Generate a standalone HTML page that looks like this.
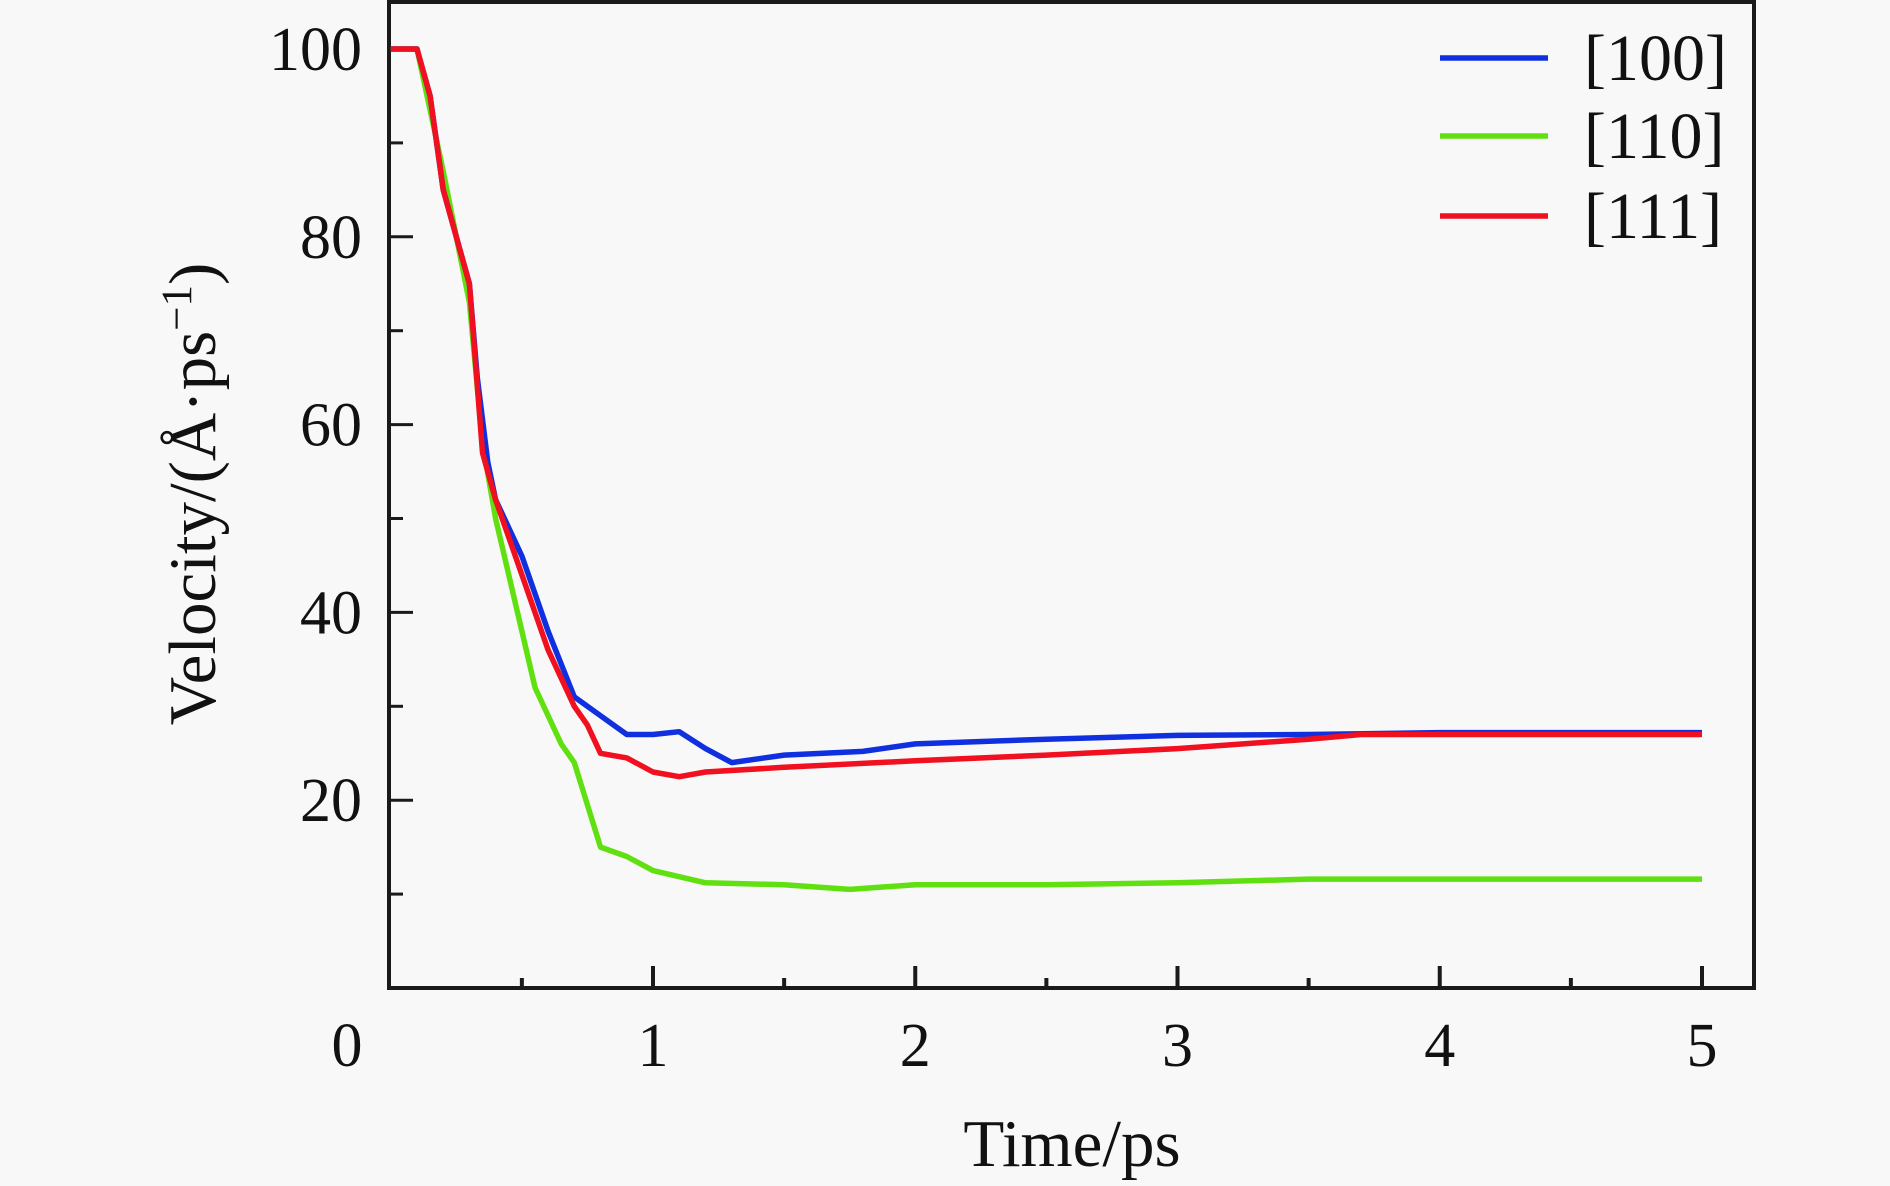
<!DOCTYPE html>
<html><head><meta charset="utf-8"><style>
html,body{margin:0;padding:0;background:#f8f8f8;}
svg{display:block;font-family:"Liberation Serif",serif;}
</style></head><body>
<svg id="chart" width="1890" height="1186" viewBox="0 0 1890 1186">
<rect width="1890" height="1186" fill="#f8f8f8"/>
<g id="plot"></g>
</svg>
<script>
const timesBlue=[0,0.1,0.15,0.2,0.3,0.33,0.37,0.4,0.5,0.6,0.7,0.8,0.9,1.0,1.1,1.2,1.3,1.5,1.8,2,2.5,3,3.5,4,5];
const valsBlue=[100,100,95,85,75,65,56,52,46,38,31,29,27,27,27.3,25.5,24,24.8,25.2,26,26.5,26.9,27,27.2,27.2];
const timesGreen=[0,0.1,0.2,0.3,0.35,0.4,0.5,0.55,0.65,0.7,0.8,0.9,1.0,1.2,1.5,1.75,2,2.5,3,3.5,5];
const valsGreen=[100,100,87,73,58,50,38,32,26,24,15,14,12.5,11.2,11,10.5,11,11,11.2,11.6,11.6];
const timesRed=[0,0.1,0.15,0.2,0.3,0.35,0.4,0.5,0.6,0.7,0.75,0.8,0.9,1.0,1.1,1.2,1.5,2,2.5,3,3.5,3.7,5];
const valsRed=[100,100,95,85,75,57,52,44,36,30,28,25,24.5,23,22.5,23,23.5,24.2,24.8,25.5,26.5,27,27];
const yTicks=[20,40,60,80,100];
const xTicks=[0,1,2,3,4,5];
const seriesNames=["[100]","[110]","[111]"];
const seriesColors=["#1030e0","#60e010","#f01020"];

const NS="http://www.w3.org/2000/svg";
const g=document.getElementById('plot');
const X0=390.75, XS=262.25, Y0=988, YS=9.39;
const xs=t=>X0+XS*t, ys=v=>Y0-YS*v;
function el(tag,attrs){const e=document.createElementNS(NS,tag);for(const k in attrs)e.setAttribute(k,attrs[k]);g.appendChild(e);return e;}

const fr=el('rect',{x:389,y:2,width:1365,height:986,fill:'none',stroke:'#1a1a1a','stroke-width':4});



yTicks.forEach(v=>{
  const t=el('line',{x1:389,x2:413,y1:ys(v),y2:ys(v),stroke:'#1a1a1a','stroke-width':3});
  
  
  const m=el('line',{x1:389,x2:403,y1:ys(v-10),y2:ys(v-10),stroke:'#1a1a1a','stroke-width':3});
  
  
  const l=el('text',{x:362,y:ys(v)+21,'text-anchor':'end','font-size':62,fill:'#111'});
  l.textContent=v;
  
  
});
xTicks.forEach(v=>{
  if(v>0){
    const t=el('line',{x1:xs(v),x2:xs(v),y1:988,y2:966,stroke:'#1a1a1a','stroke-width':4});
    
    
  }
  if(v<5){
    const m=el('line',{x1:xs(v+0.5),x2:xs(v+0.5),y1:988,y2:978,stroke:'#1a1a1a','stroke-width':4});
    
    
  }
  const l=el('text',{x:v===0?347:xs(v),y:1066,'text-anchor':'middle','font-size':62,fill:'#111'});
  l.textContent=v;
  
  
});

const data=[[timesBlue,valsBlue],[timesGreen,valsGreen],[timesRed,valsRed]];
const order=[1,0,2];
order.forEach(i=>{
  const [ts,vs]=data[i];
  const d=ts.map((t,j)=>(j?'L':'M')+xs(t).toFixed(1)+','+ys(vs[j]).toFixed(1)).join(' ');
  const p=el('path',{d:d,fill:'none',stroke:seriesColors[i],'stroke-width':5.5,'stroke-linejoin':'round'});
  
  
});

seriesNames.forEach((n,i)=>{
  const y=[58,136,216][i];
  const ln=el('line',{x1:1440,x2:1548,y1:y,y2:y,stroke:seriesColors[i],'stroke-width':5.5});
  
  
  const t=el('text',{x:1584,y:y+22,'font-size':66,fill:'#111'});
  t.textContent=n;
  
  
});

const xt=el('text',{x:1072,y:1166,'text-anchor':'middle','font-size':67,fill:'#111'});
xt.textContent='Time/ps';


const yt=el('text',{x:0,y:0,'text-anchor':'middle','font-size':67,fill:'#111',transform:'translate(215,494) rotate(-90)'});
yt.innerHTML='Velocity/(Å·ps<tspan dy="-24" font-size="43">−1</tspan><tspan dy="24">)</tspan>';


</script>
</body></html>
